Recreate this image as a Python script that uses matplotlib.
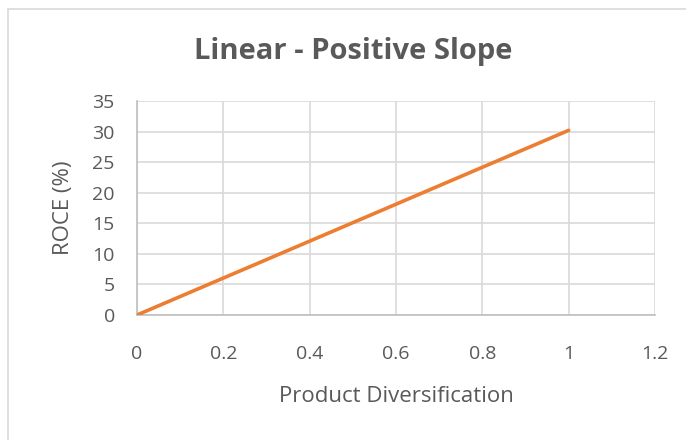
import matplotlib
matplotlib.use('Agg')
from matplotlib import pyplot as plt
from matplotlib.patches import Rectangle

# data
diversification = [0, 1]
roce = [0, 30.2]
x_ticks = [0, 0.2, 0.4, 0.6, 0.8, 1, 1.2]
y_ticks = [0, 5, 10, 15, 20, 25, 30, 35]

text_color = '#595959'
grid_color = '#d9d9d9'
line_color = '#ED7D31'

plt.rcParams['font.family'] = ['Open Sans', 'DejaVu Sans']

fig = plt.figure(figsize=(6.86, 4.4), dpi=100)
W, H = 686, 440
ax = fig.add_axes([137 / W, 1 - 315 / H, (655 - 137) / W, (315 - 101) / H])

ax.plot(diversification, roce, color=line_color, linewidth=2.6, solid_capstyle='round', zorder=3)

ax.set_xlim(0, 1.2)
ax.set_ylim(0, 35)
ax.set_xticks(x_ticks)
ax.set_xticklabels(['0', '0.2', '0.4', '0.6', '0.8', '1', '1.2'])
ax.set_yticks(y_ticks)
ax.grid(True, color=grid_color, linewidth=1.2)
ax.set_axisbelow(True)
for side in ['top', 'right']:
    ax.spines[side].set_visible(False)
for side in ['bottom', 'left']:
    ax.spines[side].set_color('#bfbfbf')
    ax.spines[side].set_linewidth(1.2)
ax.tick_params(length=0, colors=text_color, labelsize=14)
ax.tick_params(axis='x', pad=21.5)
ax.tick_params(axis='y', pad=16)

ax.set_xlabel('Product Diversification', color=text_color, fontsize=16, labelpad=17)
ax.set_ylabel('ROCE (%)', color=text_color, fontsize=16, labelpad=13)

fig.text(353 / W, 1 - 52 / H, 'Linear - Positive Slope', ha='center', va='center',
         fontsize=21, fontweight='bold', color=text_color)

# chart border
fig.patches.append(Rectangle((8 / W, -0.1), 1.1, 1 - 9 / H + 0.1, transform=fig.transFigure,
                             fill=False, edgecolor='#d9d9d9', linewidth=1.2))

fig.savefig('out.png', dpi=100)
